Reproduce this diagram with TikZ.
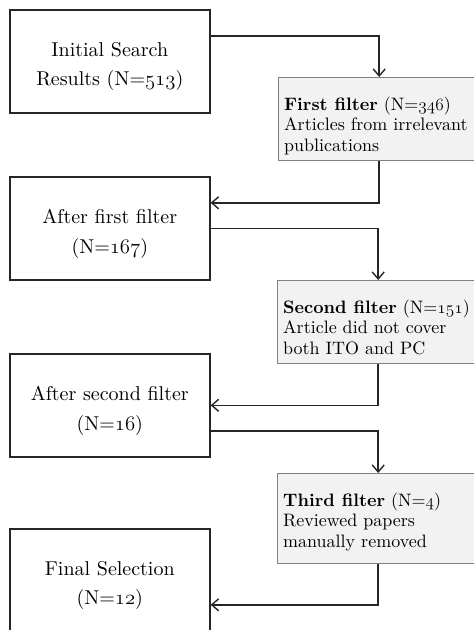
\documentclass[tikz,border=0pt]{standalone}
\usepackage{fontspec}
\setmainfont{lmroman10-regular.otf}[BoldFont=lmroman10-bold.otf]
\newcommand\osn[1]{{\usefont{OML}{cmm}{m}{it}#1}}
\usetikzlibrary{arrows.meta}
\begin{document}
\begin{tikzpicture}[x=1pt,y=-1pt,
  mainbox/.style={draw=black!85, line width=1.6pt, minimum width=200pt, minimum height=103pt,
    inner sep=0pt, anchor=north west},
  mtext/.style={align=center, inner sep=0pt, anchor=north, yshift=-33pt,
    font=\fontsize{20}{29.5}\selectfont},
  filt/.style={draw=black!50, fill=black!5, line width=1.4pt, minimum width=201pt,
    inner sep=0pt, anchor=north west},
  ftext/.style={align=left, inner sep=0pt, anchor=north west, xshift=6pt, yshift=-19.5pt,
    font=\fontsize{18}{20.5}\selectfont},
  conn/.style={line width=1.5pt, draw=black!85,
    -{Straight Barb[length=7pt,width=12pt,line width=1.4pt]}}]
\useasboundingbox (0,0) rectangle (474,630);
\fill[white] (0,0) rectangle (474,630);
\node[mainbox, label={[mtext]north:Initial Search\\Results (N=\osn{513})}] (b1) at (9,9) {};
\node[mainbox, label={[mtext]north:After first filter\\(N=\osn{167})}] (b2) at (9,176) {};
\node[mainbox, label={[mtext]north:After second filter\\(N=\osn{16})}] (b3) at (9,353) {};
\node[mainbox, label={[mtext]north:Final Selection\\(N=\osn{12})}] (b4) at (9,528) {};
\node[filt, minimum height=83pt, label={[ftext]north west:\textbf{First filter} (N=\osn{346})\\Articles from irrelevant\\publications}] (f1) at (278,77) {};
\node[filt, minimum height=83pt, label={[ftext]north west:\textbf{Second filter} (N=\osn{151})\\Article did not cover\\both ITO and PC}] (f2) at (277,280) {};
\node[filt, minimum height=90pt, label={[ftext]north west:\textbf{Third filter} (N=\osn{4})\\Reviewed papers\\manually removed}] (f3) at (277,473) {};
\coordinate (o1) at ([yshift=25.5pt]b1.east);
\coordinate (i2) at ([yshift=25.5pt]b2.east);
\coordinate (o3) at ([yshift=-25.5pt]b3.east);
\coordinate (i4) at ([yshift=-24.5pt]b4.east);
\draw[conn] (o1) -| (f1.north);
\draw[conn] (f1.south) |- (i2);
\draw[conn] (b2.east) -| (f2.north);
\draw[conn] (f2.south) |- (b3.east);
\draw[conn] (o3) -| (f3.north);
\draw[conn] (f3.south) |- (i4);
\end{tikzpicture}
\end{document}
